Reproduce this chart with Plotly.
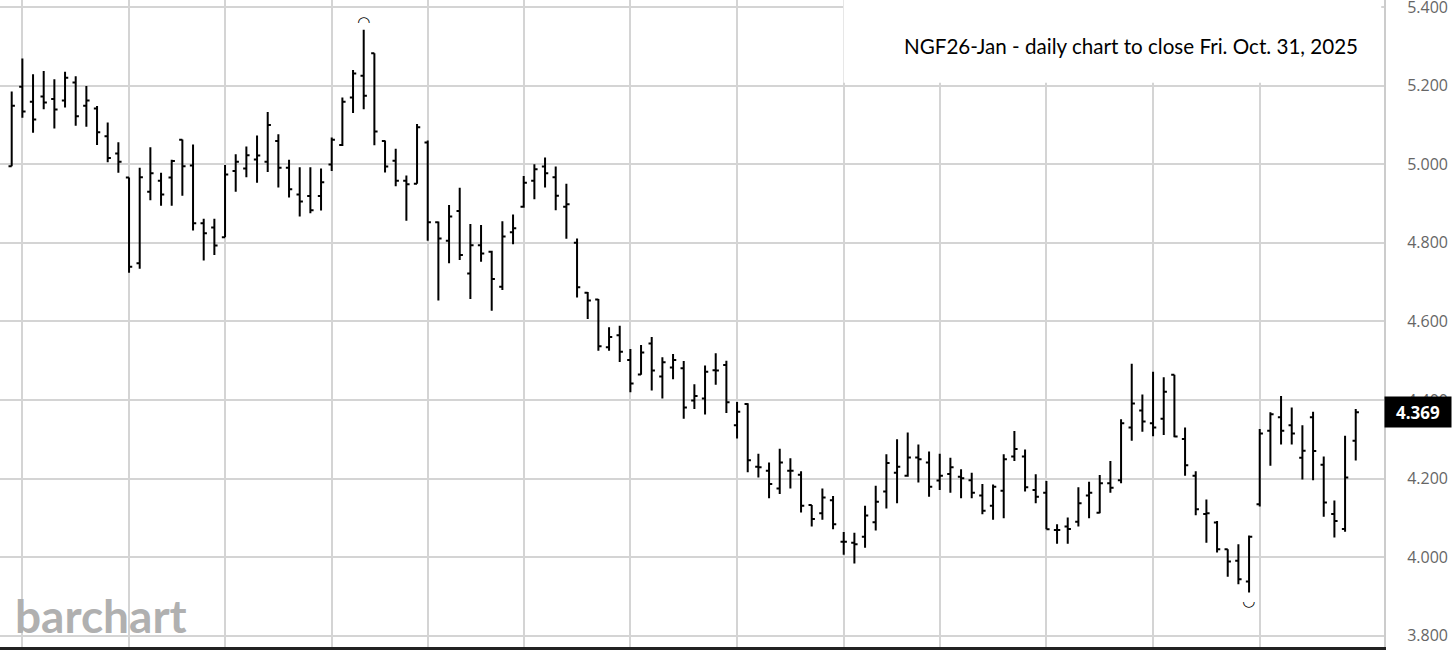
import pandas as pd
import plotly.graph_objects as go

# ---- data ----
holidays = ["2025-05-26", "2025-06-19", "2025-07-04", "2025-09-01"]
dates = [d.strftime("%Y-%m-%d") for d in pd.bdate_range("2025-05-02", "2025-10-31")
         if d.strftime("%Y-%m-%d") not in holidays]

opens = [4.995, 5.197, 5.159, 5.172, 5.166, 5.162, 5.208, 5.149, 5.142, 5.071,
         5.027, 4.966, 4.748, 4.930, 4.958, 4.966, 5.062, 4.997, 4.850, 4.839,
         4.814, 4.983, 4.989, 5.012, 5.006, 5.059, 4.991, 4.923, 4.919, 4.919,
         4.999, 5.049, 5.170, 5.225, 5.282, 5.059, 5.009, 4.958, 4.950, 5.055,
         4.852, 4.805, 4.881, 4.722, 4.794, 4.777, 4.688, 4.827, 4.892, 4.958,
         4.994, 4.967, 4.892, 4.800, 4.673, 4.656, 4.534, 4.565, 4.502, 4.465,
         4.544, 4.460, 4.483, 4.481, 4.399, 4.404, 4.476, 4.489, 4.336, 4.390,
         4.230, 4.220, 4.175, 4.220, 4.210, 4.133, 4.112, 4.145, 4.039, 4.037,
         4.052, 4.089, 4.167, 4.215, 4.207, 4.254, 4.241, 4.195, 4.212, 4.205,
         4.196, 4.157, 4.131, 4.169, 4.256, 4.256, 4.171, 4.164, 4.069, 4.078,
         4.090, 4.157, 4.113, 4.188, 4.196, 4.330, 4.373, 4.341, 4.352, 4.464,
         4.301, 4.207, 4.110, 4.088, 4.020, 3.991, 3.938, 4.135, 4.322, 4.356,
         4.336, 4.253, 4.356, 4.235, 4.110, 4.072, 4.296]
highs = [5.185, 5.269, 5.229, 5.237, 5.216, 5.235, 5.224, 5.199, 5.148, 5.106,
         5.056, 4.966, 4.991, 5.043, 4.978, 5.011, 5.063, 5.050, 4.861, 4.861,
         4.998, 5.025, 5.045, 5.073, 5.133, 5.076, 5.011, 4.992, 4.992, 4.989,
         5.068, 5.170, 5.240, 5.342, 5.282, 5.060, 5.039, 4.971, 5.102, 5.060,
         4.854, 4.896, 4.940, 4.848, 4.845, 4.780, 4.855, 4.872, 4.970, 5.000,
         5.017, 4.994, 4.950, 4.811, 4.675, 4.657, 4.585, 4.589, 4.530, 4.540,
         4.560, 4.509, 4.517, 4.499, 4.440, 4.488, 4.519, 4.500, 4.395, 4.392,
         4.263, 4.241, 4.276, 4.252, 4.219, 4.133, 4.175, 4.156, 4.064, 4.062,
         4.131, 4.182, 4.262, 4.300, 4.317, 4.287, 4.269, 4.263, 4.253, 4.224,
         4.215, 4.186, 4.185, 4.262, 4.321, 4.274, 4.211, 4.194, 4.084, 4.101,
         4.178, 4.192, 4.209, 4.245, 4.351, 4.492, 4.414, 4.472, 4.458, 4.464,
         4.330, 4.219, 4.147, 4.092, 4.020, 4.033, 4.055, 4.326, 4.369, 4.410,
         4.381, 4.336, 4.370, 4.256, 4.144, 4.309, 4.377]
lows = [4.995, 5.118, 5.080, 5.140, 5.091, 5.144, 5.098, 5.095, 5.049, 5.005,
        4.978, 4.724, 4.734, 4.908, 4.894, 4.894, 4.920, 4.831, 4.755, 4.769,
        4.814, 4.930, 4.967, 4.953, 4.980, 4.941, 4.915, 4.867, 4.875, 4.882,
        4.983, 5.046, 5.130, 5.140, 5.048, 4.979, 4.944, 4.856, 4.950, 4.805,
        4.653, 4.748, 4.756, 4.657, 4.752, 4.627, 4.680, 4.796, 4.889, 4.911,
        4.941, 4.883, 4.810, 4.661, 4.606, 4.525, 4.525, 4.497, 4.420, 4.464,
        4.424, 4.404, 4.453, 4.352, 4.377, 4.363, 4.439, 4.367, 4.302, 4.216,
        4.203, 4.150, 4.161, 4.175, 4.114, 4.078, 4.095, 4.071, 4.006, 3.984,
        4.024, 4.068, 4.124, 4.137, 4.205, 4.190, 4.154, 4.171, 4.164, 4.150,
        4.150, 4.109, 4.095, 4.099, 4.245, 4.167, 4.137, 4.071, 4.034, 4.034,
        4.078, 4.099, 4.112, 4.164, 4.188, 4.296, 4.319, 4.308, 4.311, 4.305,
        4.207, 4.107, 4.037, 4.012, 3.950, 3.931, 3.910, 4.129, 4.233, 4.287,
        4.287, 4.198, 4.196, 4.103, 4.050, 4.065, 4.246]
closes = [5.149, 5.134, 5.114, 5.157, 5.139, 5.220, 5.122, 5.162, 5.081, 5.016,
          5.006, 4.739, 4.967, 4.977, 4.923, 5.008, 4.995, 4.850, 4.824, 4.793,
          4.974, 5.006, 5.023, 5.022, 5.100, 4.991, 4.936, 4.905, 4.883, 4.954,
          5.062, 5.159, 5.231, 5.174, 5.083, 4.994, 4.958, 4.949, 5.094, 4.852,
          4.811, 4.867, 4.769, 4.794, 4.773, 4.708, 4.816, 4.837, 4.953, 4.987,
          4.977, 4.920, 4.898, 4.687, 4.653, 4.537, 4.560, 4.523, 4.442, 4.521,
          4.475, 4.496, 4.502, 4.381, 4.410, 4.472, 4.475, 4.394, 4.370, 4.247,
          4.229, 4.186, 4.241, 4.220, 4.131, 4.097, 4.152, 4.084, 4.039, 4.033,
          4.106, 4.141, 4.240, 4.230, 4.254, 4.249, 4.179, 4.207, 4.229, 4.201,
          4.164, 4.118, 4.179, 4.249, 4.275, 4.178, 4.154, 4.071, 4.069, 4.072,
          4.137, 4.164, 4.188, 4.177, 4.341, 4.391, 4.345, 4.330, 4.421, 4.307,
          4.234, 4.122, 4.112, 4.020, 3.989, 3.944, 4.052, 4.315, 4.364, 4.322,
          4.315, 4.271, 4.270, 4.139, 4.092, 4.203, 4.369]

grid_dates = ["2025-05-05", "2025-05-19", "2025-06-02", "2025-06-16", "2025-06-30",
              "2025-07-14", "2025-07-28", "2025-08-11", "2025-08-25", "2025-09-08",
              "2025-09-22", "2025-10-06", "2025-10-20"]
y_ticks = [3.8, 4.0, 4.2, 4.4, 4.6, 4.8, 5.0, 5.2, 5.4]
y_tick_labels = ["3.800", "4.000", "4.200", "4.400", "4.600", "4.800", "5.000", "5.200", "5.400"]
title_text = "NGF26-Jan - daily chart to close Fri. Oct. 31, 2025"

# ---- figure ----
fig = go.Figure()
fig.add_trace(go.Ohlc(
    x=dates, open=opens, high=highs, low=lows, close=closes,
    increasing=dict(line=dict(color="#000000", width=2)),
    decreasing=dict(line=dict(color="#000000", width=2)),
    tickwidth=0.3, showlegend=False, hoverinfo="x+y",
))

hi_i = highs.index(max(highs))
lo_i = lows.index(min(lows))

annotations = [
    dict(x=dates[hi_i], y=highs[hi_i], xref="x", yref="y", text="<b>◠</b>", showarrow=False,
         yanchor="bottom", font=dict(family="DejaVu Sans", size=15, color="#000"), yshift=-3),
    dict(x=dates[lo_i], y=lows[lo_i], xref="x", yref="y", text="<b>◡</b>", showarrow=False,
         yanchor="top", font=dict(family="DejaVu Sans", size=15, color="#000"), yshift=3),
    dict(x=1, xref="paper", y=closes[-1], yref="y", text="<b>%.3f</b>" % closes[-1],
         showarrow=False, xanchor="left", yanchor="middle", bgcolor="#000000",
         font=dict(family="Open Sans", size=17, color="#ffffff"),
         width=58, height=22, borderpad=4, align="center"),
    dict(x=0.9825, xref="paper", y=0.929, yref="paper", text=title_text, showarrow=False,
         xanchor="right", yanchor="middle",
         font=dict(family="Lato", size=20.6, color="#000000")),
    dict(x=0.0095, xref="paper", y=0.003, yref="paper", text="barchart", showarrow=False,
         xanchor="left", yanchor="bottom",
         font=dict(family="Lato", size=46, color="#b0b0b0", weight="bold")),
]

shapes = [
    dict(type="rect", xref="paper", yref="paper", x0=0.6095, x1=0.998, y0=0.872, y1=1.0,
         fillcolor="#ffffff", line=dict(width=0), layer="above"),
]

fig.update_layout(
    width=1456, height=650,
    margin=dict(l=0, r=72, t=0, b=3),
    paper_bgcolor="#ffffff", plot_bgcolor="#ffffff",
    annotations=annotations, shapes=shapes,
    xaxis=dict(type="category", range=[-1.097, 128.65], rangeslider=dict(visible=False),
               tickvals=grid_dates, showticklabels=False, ticks="",
               showgrid=True, gridcolor="#d4d4d4", gridwidth=2,
               showline=True, linecolor="#222222", linewidth=3, zeroline=False),
    yaxis=dict(side="right", range=[3.7715, 5.4178], tickvals=y_ticks, ticktext=y_tick_labels,
               showgrid=True, gridcolor="#d4d4d4", gridwidth=2, zeroline=False,
               showline=True, linecolor="#cccccc", linewidth=2, ticks="",
               ticklabelstandoff=18, automargin=False, ticklabeloverflow="allow",
               tickfont=dict(family="Open Sans", size=16, color="#666666")),
)

fig.write_html("out.html", config={"displayModeBar": False},
               post_script="document.body.style.margin='0';document.body.style.padding='0';")
